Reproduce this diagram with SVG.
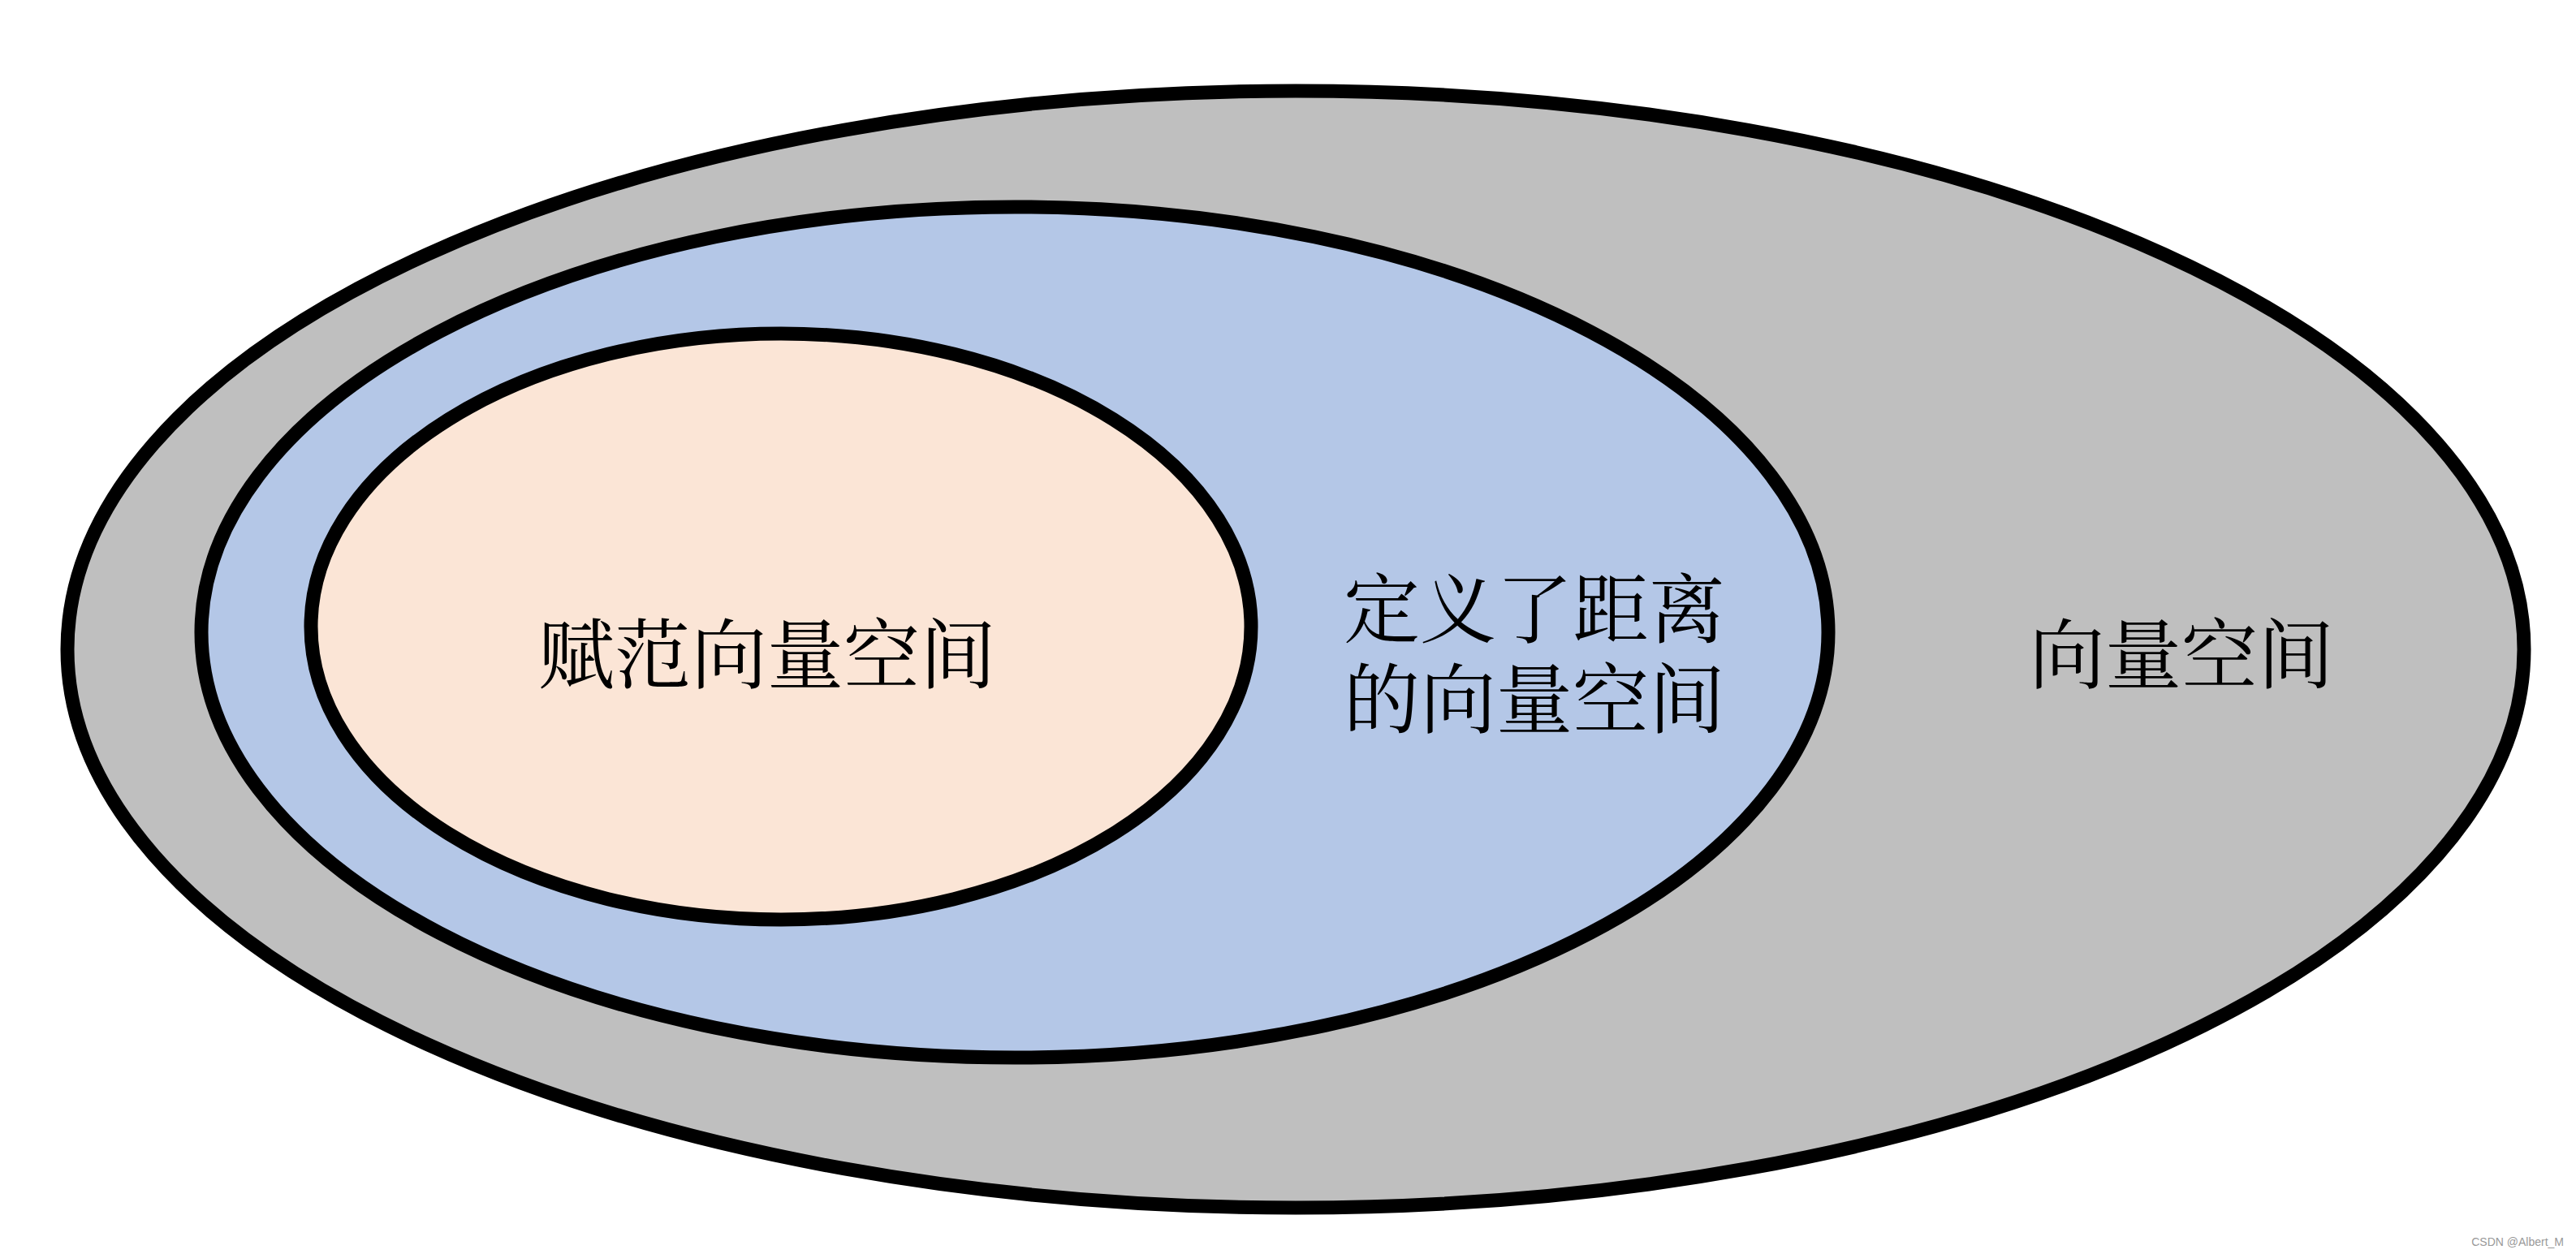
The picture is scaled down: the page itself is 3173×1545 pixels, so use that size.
<svg xmlns="http://www.w3.org/2000/svg" width="3173" height="1545" viewBox="0 0 3173 1545">
<style>
.set{stroke:#000;stroke-width:17}
.lbl{font-family:"Noto Serif CJK SC","Noto Sans CJK SC",serif;font-size:94px;fill:#000;text-anchor:middle}
.wm{font-family:"Liberation Sans",Arial,sans-serif;font-size:14px;fill:#999}
</style>
<rect width="3173" height="1545" fill="#fff"/>
<g id="vector-space">
<ellipse class="set" cx="1596" cy="800" rx="1513" ry="688" fill="#BFBFBF"/>
<text class="lbl" x="2687" y="841">向量空间</text>
</g>
<g id="metric-vector-space">
<ellipse class="set" cx="1250" cy="779" rx="1002" ry="524" fill="#B4C7E7"/>
<text class="lbl" x="1890" y="785">定义了距离</text>
<text class="lbl" x="1890" y="896">的向量空间</text>
</g>
<g id="normed-vector-space">
<ellipse class="set" cx="962" cy="772" rx="579" ry="361" fill="#FBE5D6"/>
<text class="lbl" x="945" y="841">赋范向量空间</text>
</g>
<g id="connectors"></g>
<text class="wm" x="3158" y="1535" text-anchor="end">CSDN @Albert_M</text>
</svg>
